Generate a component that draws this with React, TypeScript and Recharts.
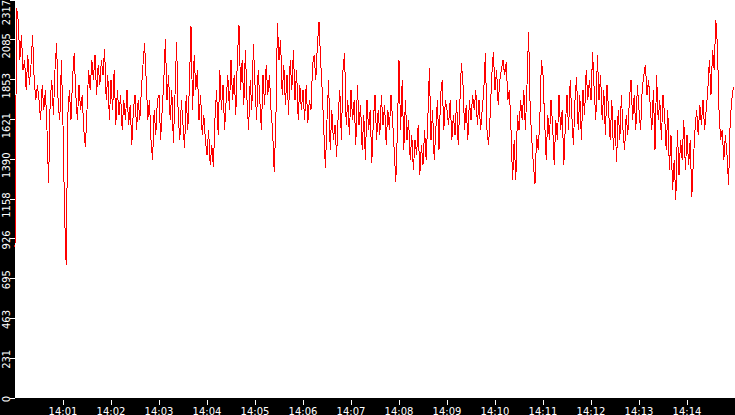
import { CartesianGrid, Line, LineChart, XAxis, YAxis } from 'recharts';

// samples every 2 s starting at 14:00:00
const startHour = 14;
const sampleStep = 2;

const values = [
  880, 2270, 2200, 1968, 2113, 1910, 1968, 1793, 1997, 1822, 1940, 2113, 1851, 1735, 1822,
  1735, 1618, 1822, 1677, 1793, 1560, 1252, 1735, 1851, 1648, 1910, 2067, 1706, 1618, 1968,
  1589, 1065, 774, 1648, 1793, 1618, 1863, 2009, 1764, 1618, 1822, 1677, 1764, 1560, 1461,
  1677, 1910, 1793, 1968, 1851, 1997, 1764, 1940, 1822, 1968, 1880, 2032, 1735, 1880, 1618,
  1851, 1677, 1910, 1589, 1793, 1648, 1764, 1560, 1735, 1618, 1793, 1589, 1706, 1473, 1677,
  1764, 1560, 1735, 1618, 1793, 1940, 2067, 1851, 1618, 1735, 1502, 1386, 1677, 1531, 1735,
  1764, 1502, 1677, 1851, 2090, 1735, 1880, 1618, 1793, 1484, 1764, 2073, 1648, 1502, 1735,
  1589, 1456, 1764, 1560, 1822, 2166, 1677, 1997, 1793, 1910, 1618, 1764, 1531, 1648, 1502,
  1415, 1560, 1357, 1473, 1345, 1630, 1793, 1531, 1910, 1677, 1822, 1560, 1735, 1880, 1677,
  1968, 1735, 1880, 1648, 1985, 2172, 1793, 1968, 1706, 2026, 1735, 1560, 1851, 1677, 2061,
  1822, 1618, 1910, 1735, 1560, 1880, 1706, 1940, 1764, 1880, 1677, 1560, 1316, 1589, 2183,
  1968, 2084, 1764, 1940, 1706, 1880, 1648, 1968, 1793, 2026, 1735, 1910, 1618, 1822, 1677,
  1793, 1618, 1822, 1601, 1735, 1677, 1940, 1997, 1851, 2055, 2189, 1968, 1793, 1560, 1339,
  1618, 1851, 1444, 1677, 1502, 1589, 1403, 1648, 1793, 1502, 1910, 2009, 1589, 1735, 1531,
  1793, 1618, 1735, 1473, 1822, 1589, 1706, 1444, 1648, 1386, 1735, 1560, 1677, 1368, 1618,
  1764, 1502, 1677, 1531, 1764, 1589, 1706, 1473, 1677, 1560, 1764, 1618, 1444, 1258, 1560,
  1968, 1560, 1851, 1444, 1735, 1502, 1618, 1386, 1531, 1327, 1502, 1415, 1589, 1298, 1473,
  1357, 1560, 1386, 1618, 1921, 1502, 1677, 1386, 1560, 1735, 1444, 1764, 1851, 1560, 1735,
  1677, 1589, 1735, 1502, 1648, 1531, 1735, 1473, 1706, 1950, 1822, 1560, 1706, 1502, 1735,
  1618, 1764, 1677, 1793, 1589, 1735, 1560, 1677, 1793, 2009, 1560, 1473, 1648, 1880, 2014,
  1793, 1910, 1706, 1851, 1910, 1968, 1880, 1956, 1735, 1793, 1560, 1269, 1502, 1269, 1648,
  1560, 1735, 1618, 1793, 1560, 1822, 2131, 1677, 1502, 1357, 1246, 1531, 1444, 1618, 1968,
  1880, 1618, 1386, 1648, 1502, 1735, 1589, 1357, 1618, 1502, 1764, 1560, 1677, 1357, 1589,
  1764, 1560, 1851, 1648, 1473, 1735, 1869, 1560, 1764, 1502, 1793, 1648, 1910, 1735, 1851,
  1735, 2014, 1793, 1618, 1997, 1735, 1880, 1618, 1793, 1531, 1822, 1677, 1502, 1735, 1444,
  1618, 1374, 1677, 1502, 1764, 1560, 1444, 1648, 1531, 1735, 1851, 1618, 1764, 1560, 1822,
  1677, 1560, 1793, 1880, 1940, 1764, 1851, 1706, 1560, 1793, 1444, 1880, 1618, 1735, 1502,
  1764, 1648, 1444, 1677, 1327, 1531, 1211, 1386, 1153, 1560, 1298, 1502, 1386, 1618, 1327,
  1531, 1357, 1502, 1170, 1386, 1560, 1677, 1531, 1706, 1589, 1735, 1560, 1677, 1793, 1968,
  1764, 2026, 1910, 2201, 2055, 1677, 1502, 1560, 1386, 1531, 1415, 1240, 1618, 1735, 1811,
];

const yTicks = [0, 231, 463, 695, 926, 1158, 1390, 1621, 1853, 2085, 2317];
const xTicks = [60, 120, 180, 240, 300, 360, 420, 480, 540, 600, 660, 720, 780, 840];

const data = values.map((v, i) => ({ t: i * sampleStep, v }));

const font = 'DejaVu Sans';

function timeLabel(sec: number) {
  const m = Math.floor(sec / 60);
  return `${startHour}:${String(m).padStart(2, '0')}`;
}

function XTick(props: any) {
  const { x, y, payload } = props;
  return (
    <g>
      <line x1={x} x2={x} y1={y + 2} y2={y + 7} stroke="#fff" strokeWidth={1} />
      <text x={x} y={y + 16.5} fill="#fff" fontSize={10} fontFamily={font} textAnchor="middle">
        {timeLabel(payload.value)}
      </text>
    </g>
  );
}

function YTick(props: any) {
  const { x, y, payload, index } = props;
  const label = String(payload.value);
  const top = index === yTicks.length - 1;
  // labels sit centred a little below their tick; the top one is pushed inside
  const ty = top ? 12.5 : y + (label.length >= 4 ? 6 : 1);
  return (
    <g>
      <line x1={x - 5} x2={x} y1={y} y2={y} stroke="#fff" strokeWidth={1} />
      <text
        x={x - 5}
        y={ty}
        fill="#fff"
        fontSize={10}
        fontFamily={font}
        textAnchor="middle"
        transform={`rotate(-90 ${x - 5} ${ty})`}
      >
        {label}
      </text>
    </g>
  );
}

export default function App() {
  return (
    <div style={{ position: 'absolute', left: 0, top: 0, width: 735, height: 415, background: '#000' }}>
      <LineChart
        width={735}
        height={415}
        data={data}
        margin={{ top: 0, right: 0, left: 0, bottom: 0 }}
        style={{ shapeRendering: 'crispEdges' }}
      >
        <CartesianGrid fill="#fff" stroke="none" horizontal={false} vertical={false} />
        <XAxis
          type="number"
          dataKey="t"
          domain={[0, 900]}
          ticks={xTicks}
          height={17}
          axisLine={false}
          tickLine={false}
          tickSize={0}
          tickMargin={0}
          tick={<XTick />}
          interval={0}
        />
        <YAxis
          type="number"
          domain={[0, 2317]}
          ticks={yTicks}
          width={15}
          axisLine={false}
          tickLine={false}
          tickSize={0}
          tickMargin={0}
          tick={<YTick />}
          interval={0}
          allowDataOverflow
        />
        <Line
          type="linear"
          dataKey="v"
          stroke="#ff0000"
          strokeWidth={1}
          dot={false}
          activeDot={false}
          isAnimationActive={false}
        />
      </LineChart>
    </div>
  );
}
